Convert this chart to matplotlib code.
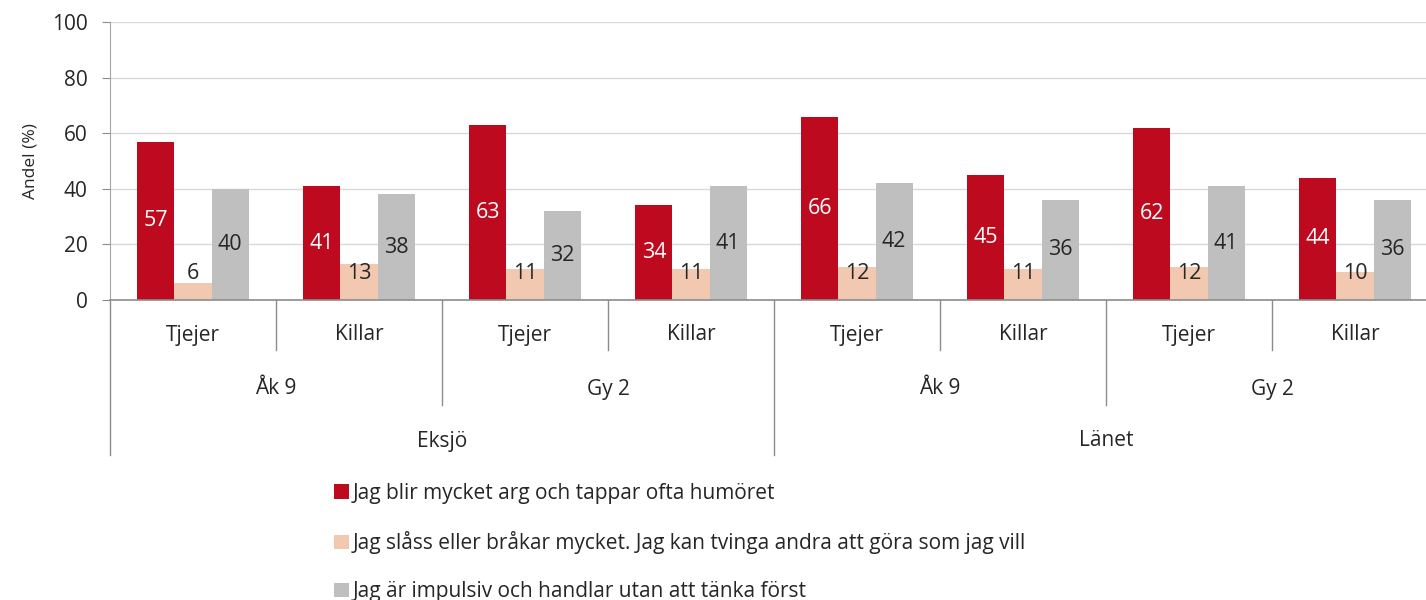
import matplotlib
matplotlib.use("Agg")
import matplotlib.pyplot as plt
from matplotlib.patches import Patch
from matplotlib.lines import Line2D
import numpy as np

plt.rcParams['font.family'] = ['Open Sans', 'DejaVu Sans']

genders = ["Tjejer", "Killar", "Tjejer", "Killar", "Tjejer", "Killar", "Tjejer", "Killar"]
grades = ["Åk 9", "Gy 2", "Åk 9", "Gy 2"]
regions = ["Eksjö", "Länet"]
series_names = [
    "Jag blir mycket arg och tappar ofta humöret",
    "Jag slåss eller bråkar mycket. Jag kan tvinga andra att göra som jag vill",
    "Jag är impulsiv och handlar utan att tänka först",
]
arg = [57, 41, 63, 34, 66, 45, 62, 44]
slass = [6, 13, 11, 11, 12, 11, 12, 10]
impulsiv = [40, 38, 32, 41, 42, 36, 41, 36]
yticks = [0, 20, 40, 60, 80, 100]

colors = ["#BE0A1E", "#F2C8B0", "#BFBFBF"]
W, H = 1426, 600
fig = plt.figure(figsize=(W / 100, H / 100), dpi=100)
# axes: left 110px, top 22px, bottom 300px, 8 groups of 166px
left, top, bottom, right = 110, 22, 300, 110 + 8 * 166
ax = fig.add_axes([left / W, 1 - bottom / H, (right - left) / W, (bottom - top) / H])

n = len(genders)
x = np.arange(n) + 0.5
bw = 0.223
series = [arg, slass, impulsiv]
for i, (vals, c) in enumerate(zip(series, colors)):
    ax.bar(x + (i - 1) * bw, vals, width=bw, color=c, zorder=2)

lab_fs = 15.5
for xi, v in zip(x, arg):
    ax.text(xi - bw, v / 2, str(v), ha="center", va="center", color="white", fontsize=lab_fs, zorder=3)
for xi, v in zip(x, slass):
    ax.text(xi, 9.5, str(v), ha="center", va="center", color="#262626", fontsize=lab_fs, zorder=3)
for xi, v in zip(x, impulsiv):
    ax.text(xi + bw, v / 2, str(v), ha="center", va="center", color="#262626", fontsize=lab_fs, zorder=3)

ax.set_xlim(0, n)
ax.set_ylim(0, 100)
ax.set_yticks(yticks)
ax.tick_params(axis="y", labelsize=15, length=6, color="#8C8C8C", labelcolor="#262626", pad=10)
ax.set_xticks([])
ax.yaxis.grid(True, color="#D9D9D9", linewidth=1, zorder=0)
ax.set_axisbelow(True)
for s in ["top", "right"]:
    ax.spines[s].set_visible(False)
ax.spines["left"].set_color("#A6A6A6")
ax.spines["bottom"].set_color("#8C8C8C")
ax.spines["bottom"].set_linewidth(1.2)
ax.set_ylabel("Andel (%)", fontsize=12.5, color="#262626", labelpad=10)

ah = bottom - top
def ay(py):
    return (bottom - py) / ah

tr = ax.get_xaxis_transform()
lc = "#8C8C8C"
def vline(xd, py):
    ax.add_line(Line2D([xd, xd], [0, ay(py)], transform=tr, color=lc, lw=1, clip_on=False))

for i in range(n + 1):
    if i % 4 == 0:
        vline(i, 455)
    elif i % 2 == 0:
        vline(i, 405)
    else:
        vline(i, 350)

cat_fs = 15
for i, g in enumerate(genders):
    ax.text(i + 0.5, ay(335), g, transform=tr, ha="center", va="center", fontsize=cat_fs, color="#262626")
for i, g in enumerate(grades):
    ax.text(2 * i + 1, ay(389), g, transform=tr, ha="center", va="center", fontsize=cat_fs, color="#262626")
for i, g in enumerate(regions):
    ax.text(4 * i + 2, ay(441), g, transform=tr, ha="center", va="center", fontsize=cat_fs, color="#262626")

handles = [Patch(facecolor=c, edgecolor="none") for c in colors]
leg = fig.legend(handles, series_names, loc="upper left", bbox_to_anchor=(334 / W, 1 - 483 / H),
                 frameon=False, fontsize=15, handlelength=0.7, handleheight=0.7,
                 handletextpad=0.2, labelspacing=1.3, borderpad=0, borderaxespad=0)
for t in leg.get_texts():
    t.set_color("#262626")

fig.savefig("out.png", dpi=100)
